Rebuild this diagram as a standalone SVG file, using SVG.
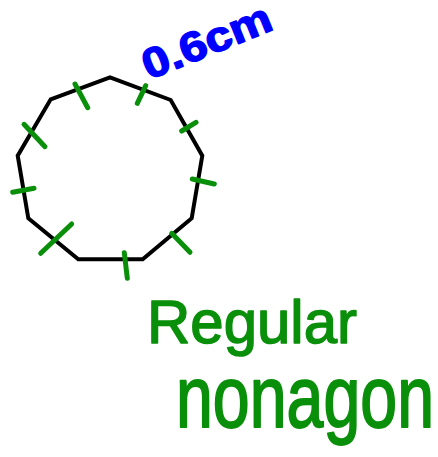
<svg xmlns="http://www.w3.org/2000/svg" width="438" height="457" viewBox="0 0 438 457">
<style>
.poly{fill:none;stroke:#000;stroke-width:4;stroke-linejoin:miter}
.tick{stroke:#0a8f0a;stroke-width:5;stroke-linecap:round;fill:none}
.lbl{font-family:"Liberation Sans",Arial,sans-serif;fill:#0a8f0a;stroke:#0a8f0a;stroke-width:1.5;stroke-linejoin:round}
.meas{font-family:"Liberation Sans",Arial,sans-serif;font-weight:bold;fill:#0000ff;stroke:#0000ff;stroke-width:1.5;stroke-linejoin:round}
</style>
<rect width="438" height="457" fill="#fff"/>
<g id="nonagon">
<polygon class="poly" points="110,77.3 170.7,100 202.3,155.7 191.7,218.3 142.7,259.3 78.3,259.3 28.3,218.3 17.7,155.7 50.7,99.3"/>
</g>
<g id="ticks">
<line class="tick" x1="75" y1="84" x2="87.7" y2="107.7"/>
<line class="tick" x1="145.7" y1="85.7" x2="137.3" y2="103.3"/>
<line class="tick" x1="196" y1="122.3" x2="181.7" y2="131"/>
<line class="tick" x1="192.3" y1="179" x2="214.3" y2="184"/>
<line class="tick" x1="171.7" y1="233.3" x2="190" y2="252.3"/>
<line class="tick" x1="124.3" y1="252.7" x2="127.3" y2="278.3"/>
<line class="tick" x1="71.7" y1="224" x2="40.7" y2="253.3"/>
<line class="tick" x1="12.7" y1="192.3" x2="34" y2="188.3"/>
<line class="tick" x1="24" y1="124.3" x2="45" y2="146.7"/>
</g>
<g id="measure">
<text class="meas" transform="translate(149,80) rotate(-22)" font-size="42" textLength="136" lengthAdjust="spacingAndGlyphs">0.6cm</text>
</g>
<g id="title">
<text class="lbl" x="147" y="343" font-size="62" textLength="210" lengthAdjust="spacingAndGlyphs">Regular</text>
<text class="lbl" transform="translate(176,427) scale(1,1.3)" font-size="67" textLength="258" lengthAdjust="spacingAndGlyphs">nonagon</text>
</g>
</svg>
